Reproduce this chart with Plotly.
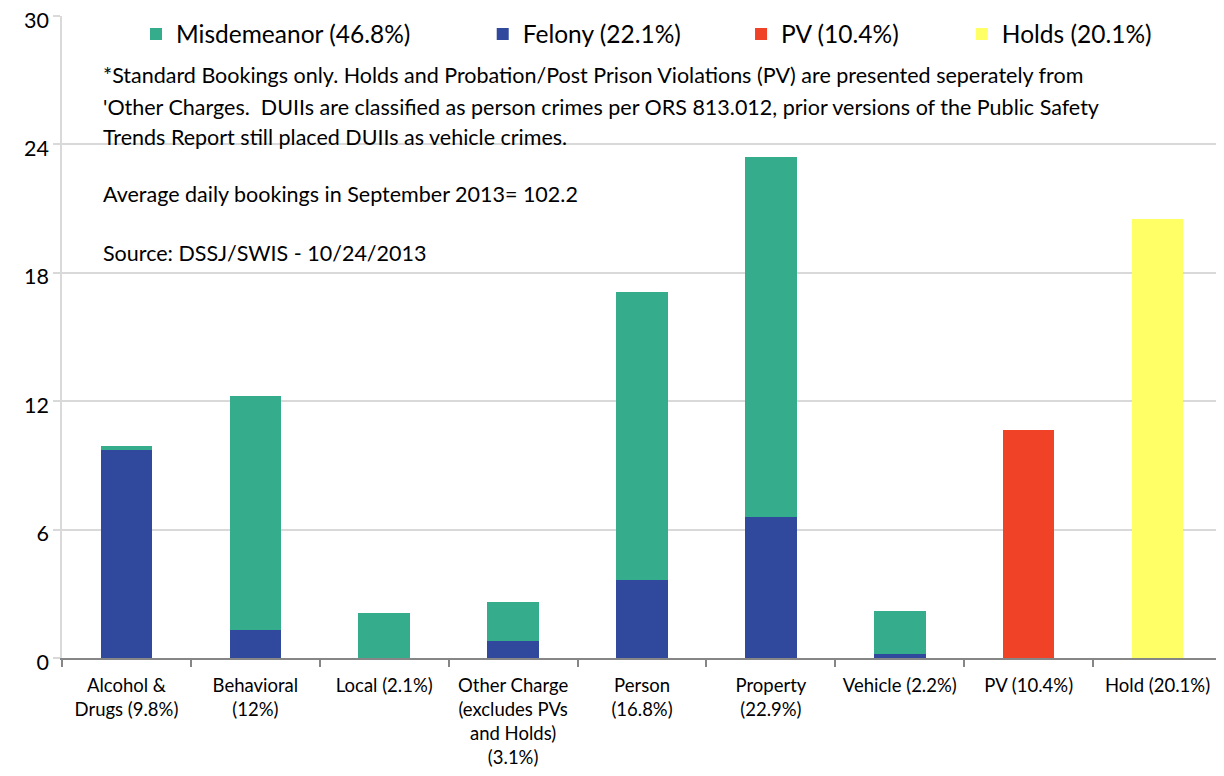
import plotly.graph_objects as go

categories = [
    "Alcohol &<br>Drugs (9.8%)",
    "Behavioral<br>(12%)",
    "Local (2.1%)",
    "Other Charge<br>(excludes PVs<br>and Holds)<br>(3.1%)",
    "Person<br>(16.8%)",
    "Property<br>(22.9%)",
    "Vehicle (2.2%)",
    "PV (10.4%)",
    "Hold (20.1%)",
]
felony = [9.72, 1.33, 0, 0.80, 3.64, 6.59, 0.19, None, None]
misdemeanor = [0.18, 10.92, 2.09, 1.83, 13.46, 16.80, 1.99, None, None]
pv = [None, None, None, None, None, None, None, 10.64, None]
holds = [None, None, None, None, None, None, None, None, 20.51]

series_names = ["Misdemeanor (46.8%)", "Felony (22.1%)", "PV (10.4%)", "Holds (20.1%)"]
y_ticks = [0, 6, 12, 18, 24, 30]

notes = [
    "*Standard Bookings only. Holds and Probation/Post Prison Violations (PV) are presented seperately from",
    "'Other Charges.  DUIIs are classified as person crimes per ORS 813.012, prior versions of the Public Safety",
    "Trends Report still placed DUIIs as vehicle crimes.",
    "Average daily bookings in September 2013= 102.2",
    "Source: DSSJ/SWIS - 10/24/2013",
]
note_py = [75, 107, 137, 194, 253]

FONT = "Lato"
C_MIS = "#35AC8B"
C_FEL = "#30499C"
C_PV = "#EF4226"
C_HOLD = "#FFFF66"

# page body has an 8px margin
OFF = 8
W, H = 1216, 768
L, R, T, B = 54, 2, 8, 118
plot_w = W - L - R
plot_h = H - T - B
PL = L + OFF          # plot left in page pixels
PB = H - B + OFF      # plot bottom in page pixels
pad_mis = "\u2003\u2003\u2003\u2002"
pad_fel = "\u2003\u2003\u2003"
pad_pv = "\u2003\u2003\u2003\u2009"

fig = go.Figure()
fig.add_trace(go.Bar(x=categories, y=felony, name=series_names[1] + pad_fel, marker_color=C_FEL,
                     marker_line_width=0, legendrank=2))
fig.add_trace(go.Bar(x=categories, y=misdemeanor, name=series_names[0] + pad_mis, marker_color=C_MIS,
                     marker_line_width=0, legendrank=1))
fig.add_trace(go.Bar(x=categories, y=pv, name=series_names[2] + pad_pv, marker_color=C_PV,
                     marker_line_width=0, legendrank=3))
fig.add_trace(go.Bar(x=categories, y=holds, name=series_names[3], marker_color=C_HOLD,
                     marker_line_width=0, legendrank=4))

for txt, py in zip(notes, note_py):
    fig.add_annotation(text=txt, xref="paper", yref="paper",
                       x=(101 - PL) / plot_w, y=(PB - py) / plot_h,
                       xanchor="left", yanchor="middle", showarrow=False,
                       font=dict(family=FONT, size=21.5, color="black"))

fig.update_layout(
    width=W, height=H,
    margin=dict(l=L, r=R, t=T, b=B, autoexpand=False),
    paper_bgcolor="white", plot_bgcolor="white",
    barmode="stack", bargap=0.6,
    font=dict(family=FONT, color="black"),
    legend=dict(orientation="h", traceorder="normal",
                x=(136 - PL) / plot_w, y=(PB - 34) / plot_h,
                xanchor="left", yanchor="middle", bgcolor="rgba(0,0,0,0)",
                font=dict(family=FONT, size=24.5, color="black"), itemclick=False),
    showlegend=True,
)
fig.update_yaxes(range=[0, 30], tickvals=y_ticks, showgrid=True, gridcolor="#D9D9D9", gridwidth=1.5,
                 showline=True, linecolor="#D9D9D9", linewidth=1.5, zeroline=False,
                 ticks="outside", ticklen=7, tickcolor="#D9D9D9", tickwidth=1.5,
                 ticklabeloverflow="allow", ticklabelshift=4,
                 tickfont=dict(family=FONT, size=21.5, color="black"))
fig.update_xaxes(type="category", showline=True, linecolor="#868686", linewidth=1.5,
                 ticks="outside", tickson="boundaries", ticklen=7, tickcolor="#868686", tickwidth=1.5,
                 ticklabelstandoff=10,
                 tickfont=dict(family=FONT, size=18.5, color="black"), tickangle=0)

fig.write_html("out.html")
